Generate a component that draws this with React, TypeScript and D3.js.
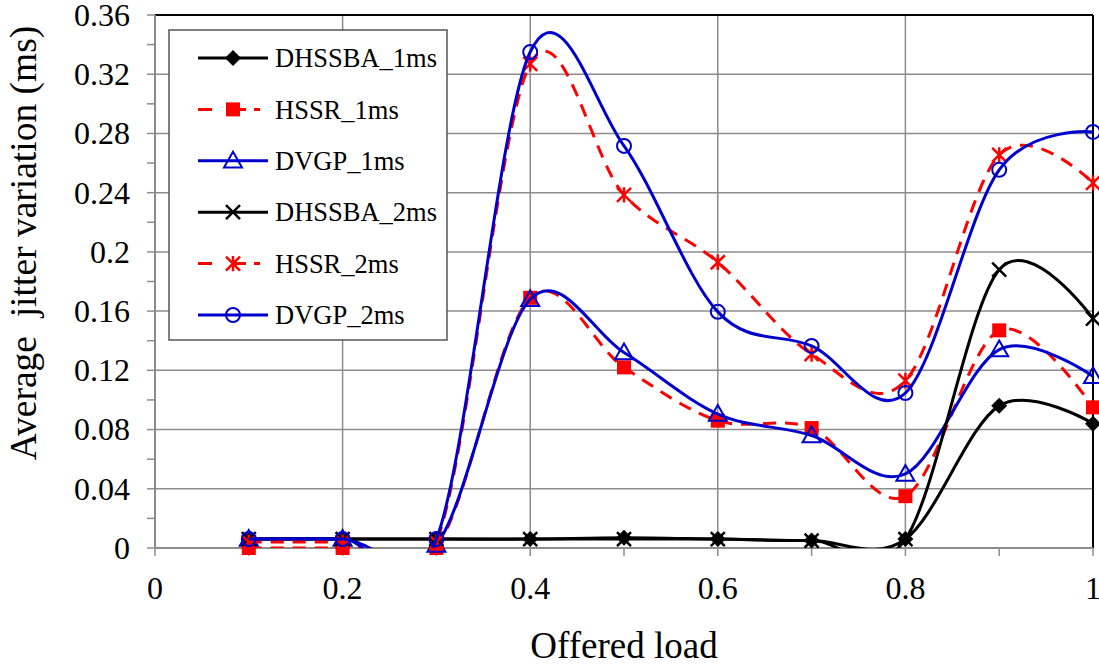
import React from "react";
import * as d3 from "d3";

const loads = [0.1, 0.2, 0.3, 0.4, 0.5, 0.6, 0.7, 0.8, 0.9, 1.0];
const dhssba1 = [0.006, 0.006, 0.006, 0.006, 0.007, 0.006, 0.005, 0.006, 0.096, 0.084];
const hssr1 = [0.0, 0.0, 0.0, 0.169, 0.122, 0.086, 0.081, 0.035, 0.147, 0.095];
const dvgp1 = [0.006, 0.006, 0.002, 0.168, 0.132, 0.0905, 0.076, 0.05, 0.134, 0.116];
const dhssba2 = [0.006, 0.006, 0.006, 0.006, 0.006, 0.006, 0.005, 0.006, 0.188, 0.155];
const hssr2 = [0.004, 0.004, 0.004, 0.327, 0.2385, 0.193, 0.131, 0.113, 0.2655, 0.2466];
const dvgp2 = [0.006, 0.006, 0.006, 0.335, 0.2716, 0.1595, 0.1365, 0.1047, 0.2554, 0.281];

const seriesNames = ["DHSSBA_1ms", "HSSR_1ms", "DVGP_1ms", "DHSSBA_2ms", "HSSR_2ms", "DVGP_2ms"];
const seriesValues = [dhssba1, hssr1, dvgp1, dhssba2, hssr2, dvgp2];
const seriesColors = ["#000000", "#FF0000", "#0000CC", "#000000", "#FF0000", "#0000CC"];
const seriesDashed = [false, true, false, false, true, false];
const seriesMarkers = ["diamond", "square", "triangle", "x", "star", "circle"];

const yTicks = [0, 0.04, 0.08, 0.12, 0.16, 0.2, 0.24, 0.28, 0.32, 0.36];
const xTicks = [0, 0.2, 0.4, 0.6, 0.8, 1];

const FONT = "Liberation Serif, Times New Roman, Tinos, DejaVu Serif, serif";

function Marker({ type, cx, cy, color }: { type: string; cx: number; cy: number; color: string }) {
  switch (type) {
    case "diamond": {
      const r = 8;
      return <path d={`M${cx},${cy - r}L${cx + r},${cy}L${cx},${cy + r}L${cx - r},${cy}Z`} fill={color} />;
    }
    case "square": {
      const r = 7;
      return <rect x={cx - r} y={cy - r} width={2 * r} height={2 * r} fill={color} />;
    }
    case "triangle": {
      const r = 9;
      return (
        <path
          d={`M${cx},${cy - r}L${cx + r},${cy + r * 0.75}L${cx - r},${cy + r * 0.75}Z`}
          fill="none"
          stroke={color}
          strokeWidth={2}
        />
      );
    }
    case "x": {
      const r = 7;
      return (
        <path d={`M${cx - r},${cy - r}L${cx + r},${cy + r}M${cx - r},${cy + r}L${cx + r},${cy - r}`} stroke={color} strokeWidth={2.5} />
      );
    }
    case "star": {
      const r = 7;
      return (
        <path
          d={`M${cx - r},${cy - r}L${cx + r},${cy + r}M${cx - r},${cy + r}L${cx + r},${cy - r}M${cx},${cy - r * 1.1}L${cx},${cy + r * 1.1}`}
          stroke={color}
          strokeWidth={2.5}
        />
      );
    }
    case "circle":
      return <circle cx={cx} cy={cy} r={7} fill="none" stroke={color} strokeWidth={2} />;
    default:
      return null;
  }
}

export default function App() {
  const W = 1099;
  const H = 667;
  const left = 155;
  const right = 1093;
  const top = 15;
  const bottom = 548;
  const x = d3.scaleLinear().domain([0, 1]).range([left, right]);
  const y = d3.scaleLinear().domain([0, 0.36]).range([bottom, top]);
  const line = d3
    .line<number>()
    .x((_, i) => x(loads[i]))
    .y((d) => y(d))
    .curve(d3.curveCardinal.tension(0));

  const minorY = d3.range(0, 0.3601, 0.02);
  const minorX = d3.range(0, 1.0001, 0.1);

  const legendX = 169;
  const legendY = 30;
  const legendW = 278;
  const legendH = 310;

  const textStyle = { fontFamily: FONT };

  return (
    <svg width={W} height={H} style={{ position: "absolute", left: 0, top: 0, background: "#fff" }}>
      <defs>
        <clipPath id="plotClip">
          <rect x={left} y={top - 2} width={right - left + 2} height={bottom - top + 2} />
        </clipPath>
      </defs>
      <rect x={0} y={0} width={W} height={H} fill="#fff" />
      {yTicks.map((t) => (
        <line key={"gy" + t} x1={left} x2={right} y1={y(t)} y2={y(t)} stroke="#8c8c8c" strokeWidth={1.5} />
      ))}
      {xTicks.map((t) => (
        <line key={"gx" + t} x1={x(t)} x2={x(t)} y1={top} y2={bottom} stroke="#8c8c8c" strokeWidth={1.5} />
      ))}
      <line x1={left} x2={right} y1={top} y2={top} stroke="#000" strokeWidth={2} />
      <line x1={right} x2={right} y1={top} y2={bottom} stroke="#000" strokeWidth={2} />
      <line x1={left} x2={left} y1={top} y2={bottom} stroke="#8c8c8c" strokeWidth={2} />
      <line x1={left} x2={right} y1={bottom} y2={bottom} stroke="#8c8c8c" strokeWidth={2} />
      {minorY.map((t) => (
        <line key={"ty" + t} x1={left - 8} x2={left} y1={y(t)} y2={y(t)} stroke="#8c8c8c" strokeWidth={1.5} />
      ))}
      {minorX.map((t) => (
        <line key={"tx" + t} x1={x(t)} x2={x(t)} y1={bottom} y2={bottom + 8} stroke="#8c8c8c" strokeWidth={1.5} />
      ))}
      {yTicks.map((t) => (
        <text key={"ly" + t} x={130} y={y(t)} dy="0.34em" textAnchor="end" style={textStyle} fontSize={32} fill="#000">
          {String(+t.toFixed(2))}
        </text>
      ))}
      {xTicks.map((t) => (
        <text key={"lx" + t} x={x(t)} y={599} textAnchor="middle" style={textStyle} fontSize={32} fill="#000">
          {String(t)}
        </text>
      ))}
      <text x={624} y={658} textAnchor="middle" style={textStyle} fontSize={37} fill="#000">
        Offered load
      </text>
      <text
        transform="translate(36,243) rotate(-90)"
        textAnchor="middle"
        fontSize={37.5}
        fill="#000"
        style={{ whiteSpace: "pre", fontFamily: FONT }}
      >
        {"Average  jitter variation (ms)"}
      </text>
      {seriesValues.map((vals, si) => (
        <g key={"s" + si}>
          <path
            d={line(vals) || ""}
            fill="none"
            stroke={seriesColors[si]}
            strokeWidth={3}
            strokeDasharray={seriesDashed[si] ? "13,9" : undefined}
            clipPath="url(#plotClip)"
          />
          {vals.map((v, i) => (
            <Marker key={i} type={seriesMarkers[si]} cx={x(loads[i])} cy={y(v)} color={seriesColors[si]} />
          ))}
        </g>
      ))}
      <rect x={legendX} y={legendY} width={legendW} height={legendH} fill="#fff" stroke="#555" strokeWidth={1.5} />
      {seriesNames.map((name, i) => {
        const ly = 58 + i * 51.4;
        return (
          <g key={"lg" + i}>
            <line
              x1={198}
              x2={268}
              y1={ly}
              y2={ly}
              stroke={seriesColors[i]}
              strokeWidth={3}
              strokeDasharray={seriesDashed[i] ? "14,20,14,8,6" : undefined}
            />
            <Marker type={seriesMarkers[i]} cx={233} cy={ly} color={seriesColors[i]} />
            <text x={275} y={ly} dy="0.35em" style={textStyle} fontSize={26.5} fill="#000">
              {name}
            </text>
          </g>
        );
      })}
    </svg>
  );
}
